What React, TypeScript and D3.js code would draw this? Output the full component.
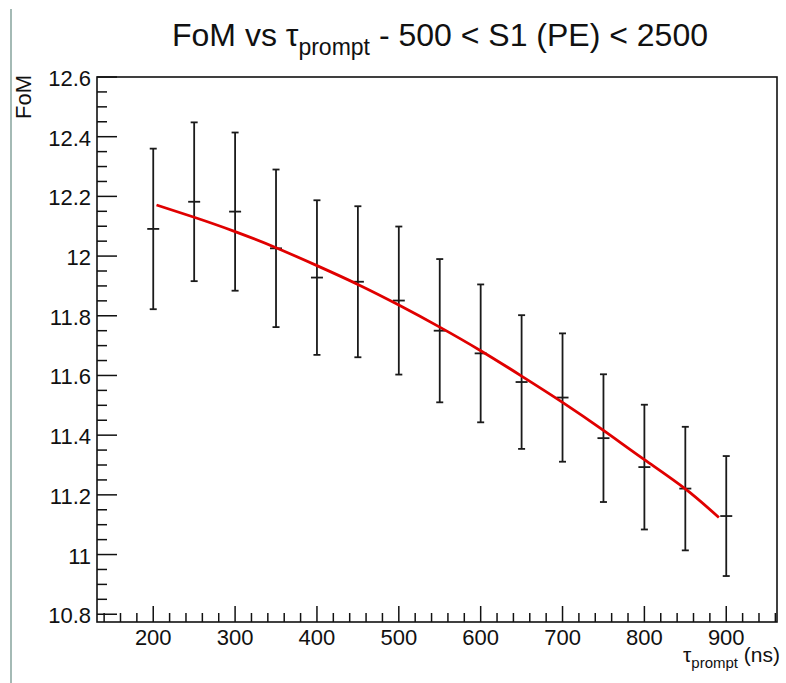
import React, { useEffect, useRef } from 'react';
import * as d3 from 'd3';

// measured points (tau_prompt in ns)
const tauValues = [200, 250, 300, 350, 400, 450, 500, 550, 600, 650, 700, 750, 800, 850, 900];
const fomValues = [12.091, 12.182, 12.149, 12.026, 11.928, 11.914, 11.851, 11.750, 11.674, 11.578, 11.526, 11.390, 11.293, 11.221, 11.129];
const fomErrors = [0.269, 0.266, 0.265, 0.264, 0.259, 0.253, 0.248, 0.240, 0.231, 0.224, 0.215, 0.214, 0.209, 0.207, 0.201];

// fit curve
const fitTau = [204, 250, 300, 350, 400, 450, 500, 550, 600, 650, 700, 750, 800, 850, 891];
const fitFom = [12.171, 12.130, 12.082, 12.028, 11.968, 11.905, 11.836, 11.762, 11.683, 11.598, 11.510, 11.416, 11.318, 11.220, 11.124];

const xTickLabels = ['200', '300', '400', '500', '600', '700', '800', '900'];
const yTickLabels = ['10.8', '11', '11.2', '11.4', '11.6', '11.8', '12', '12.2', '12.4', '12.6'];

const FONT = '"Liberation Sans", Arial, Helvetica, sans-serif';

const App = () => {
  const ref = useRef<SVGSVGElement>(null);

  useEffect(() => {
    const svg = d3.select(ref.current);
    svg.selectAll('*').remove();

    const left = 97;
    const right = 777;
    const top = 77;
    const bottom = 622;

    const x = d3.scaleLinear().domain([131.3, 962]).range([left, right]);
    const y = d3.scaleLinear().domain([10.774, 12.6]).range([bottom, top]);

    // thin line on the far left of the canvas
    svg
      .append('line')
      .attr('x1', 11)
      .attr('x2', 11)
      .attr('y1', 9)
      .attr('y2', 683)
      .attr('stroke', '#86a39c')
      .attr('stroke-width', 1.5);

    // frame
    svg
      .append('rect')
      .attr('x', left)
      .attr('y', top)
      .attr('width', right - left)
      .attr('height', bottom - top)
      .attr('fill', 'none')
      .attr('stroke', '#111')
      .attr('stroke-width', 1.6);

    // x ticks
    const xMinor = d3.range(140, 962, 20);
    svg
      .append('g')
      .selectAll('line')
      .data(xMinor)
      .enter()
      .append('line')
      .attr('x1', (d) => x(d))
      .attr('x2', (d) => x(d))
      .attr('y1', bottom)
      .attr('y2', (d) => (d % 100 === 0 ? bottom - 16 : bottom - 9))
      .attr('stroke', '#111')
      .attr('stroke-width', 1.5);

    svg
      .append('g')
      .selectAll('text')
      .data(xTickLabels)
      .enter()
      .append('text')
      .attr('x', (d) => x(+d))
      .attr('y', 645)
      .attr('text-anchor', 'middle')
      .attr('font-family', FONT)
      .attr('font-size', 22)
      .attr('fill', '#111')
      .text((d) => d);

    // y ticks
    const yMinor = d3.range(0, 37).map((i) => 10.8 + i * 0.05);
    svg
      .append('g')
      .selectAll('line')
      .data(yMinor)
      .enter()
      .append('line')
      .attr('x1', left)
      .attr('x2', (d, i) => (i % 4 === 0 ? left + 20 : left + 10))
      .attr('y1', (d) => y(d))
      .attr('y2', (d) => y(d))
      .attr('stroke', '#111')
      .attr('stroke-width', 1.5);

    svg
      .append('g')
      .selectAll('text')
      .data(yTickLabels)
      .enter()
      .append('text')
      .attr('x', 91)
      .attr('y', (d) => y(+d) + 9)
      .attr('text-anchor', 'end')
      .attr('font-family', FONT)
      .attr('font-size', 22)
      .attr('fill', '#111')
      .text((d) => d);

    // error bars
    const pts = tauValues.map((t, i) => ({ t, v: fomValues[i], e: fomErrors[i] }));
    const bars = svg.append('g').attr('stroke', '#1a1a1a').attr('stroke-width', 1.8);
    pts.forEach((p) => {
      const cx = x(p.t);
      bars.append('line').attr('x1', cx).attr('x2', cx).attr('y1', y(p.v + p.e)).attr('y2', y(p.v - p.e));
      bars.append('line').attr('x1', cx - 3.5).attr('x2', cx + 3.5).attr('y1', y(p.v + p.e)).attr('y2', y(p.v + p.e));
      bars.append('line').attr('x1', cx - 3.5).attr('x2', cx + 3.5).attr('y1', y(p.v - p.e)).attr('y2', y(p.v - p.e));
      bars.append('line').attr('x1', cx - 6).attr('x2', cx + 6).attr('y1', y(p.v)).attr('y2', y(p.v));
    });

    // fit curve
    const line = d3
      .line<number>()
      .x((d, i) => x(fitTau[i]))
      .y((d) => y(d))
      .curve(d3.curveNatural);

    svg
      .append('path')
      .attr('d', line(fitFom))
      .attr('fill', 'none')
      .attr('stroke', '#e00000')
      .attr('stroke-width', 2.8);

    // title
    const title = svg
      .append('text')
      .attr('x', 440)
      .attr('y', 46)
      .attr('text-anchor', 'middle')
      .attr('font-family', FONT)
      .attr('font-size', 32)
      .attr('fill', '#111');
    title.append('tspan').text('FoM vs τ');
    title.append('tspan').attr('font-size', 23).attr('dy', 9).text('prompt');
    title.append('tspan').attr('dy', -9).text(' - 500 < S1 (PE) < 2500');

    // axis titles
    const xTitle = svg
      .append('text')
      .attr('x', 780)
      .attr('y', 662)
      .attr('text-anchor', 'end')
      .attr('font-family', FONT)
      .attr('font-size', 21)
      .attr('fill', '#111');
    xTitle.append('tspan').text('τ');
    xTitle.append('tspan').attr('font-size', 15).attr('dy', 6).text('prompt');
    xTitle.append('tspan').attr('dy', -6).text(' (ns)');

    svg
      .append('text')
      .attr('transform', 'translate(31, 75) rotate(-90)')
      .attr('text-anchor', 'end')
      .attr('font-family', FONT)
      .attr('font-size', 22)
      .attr('fill', '#111')
      .text('FoM');
  }, []);

  return (
    <svg
      ref={ref}
      width={786}
      height={683}
      style={{ position: 'absolute', left: 0, top: 0, background: '#fff' }}
    />
  );
};

export default App;
